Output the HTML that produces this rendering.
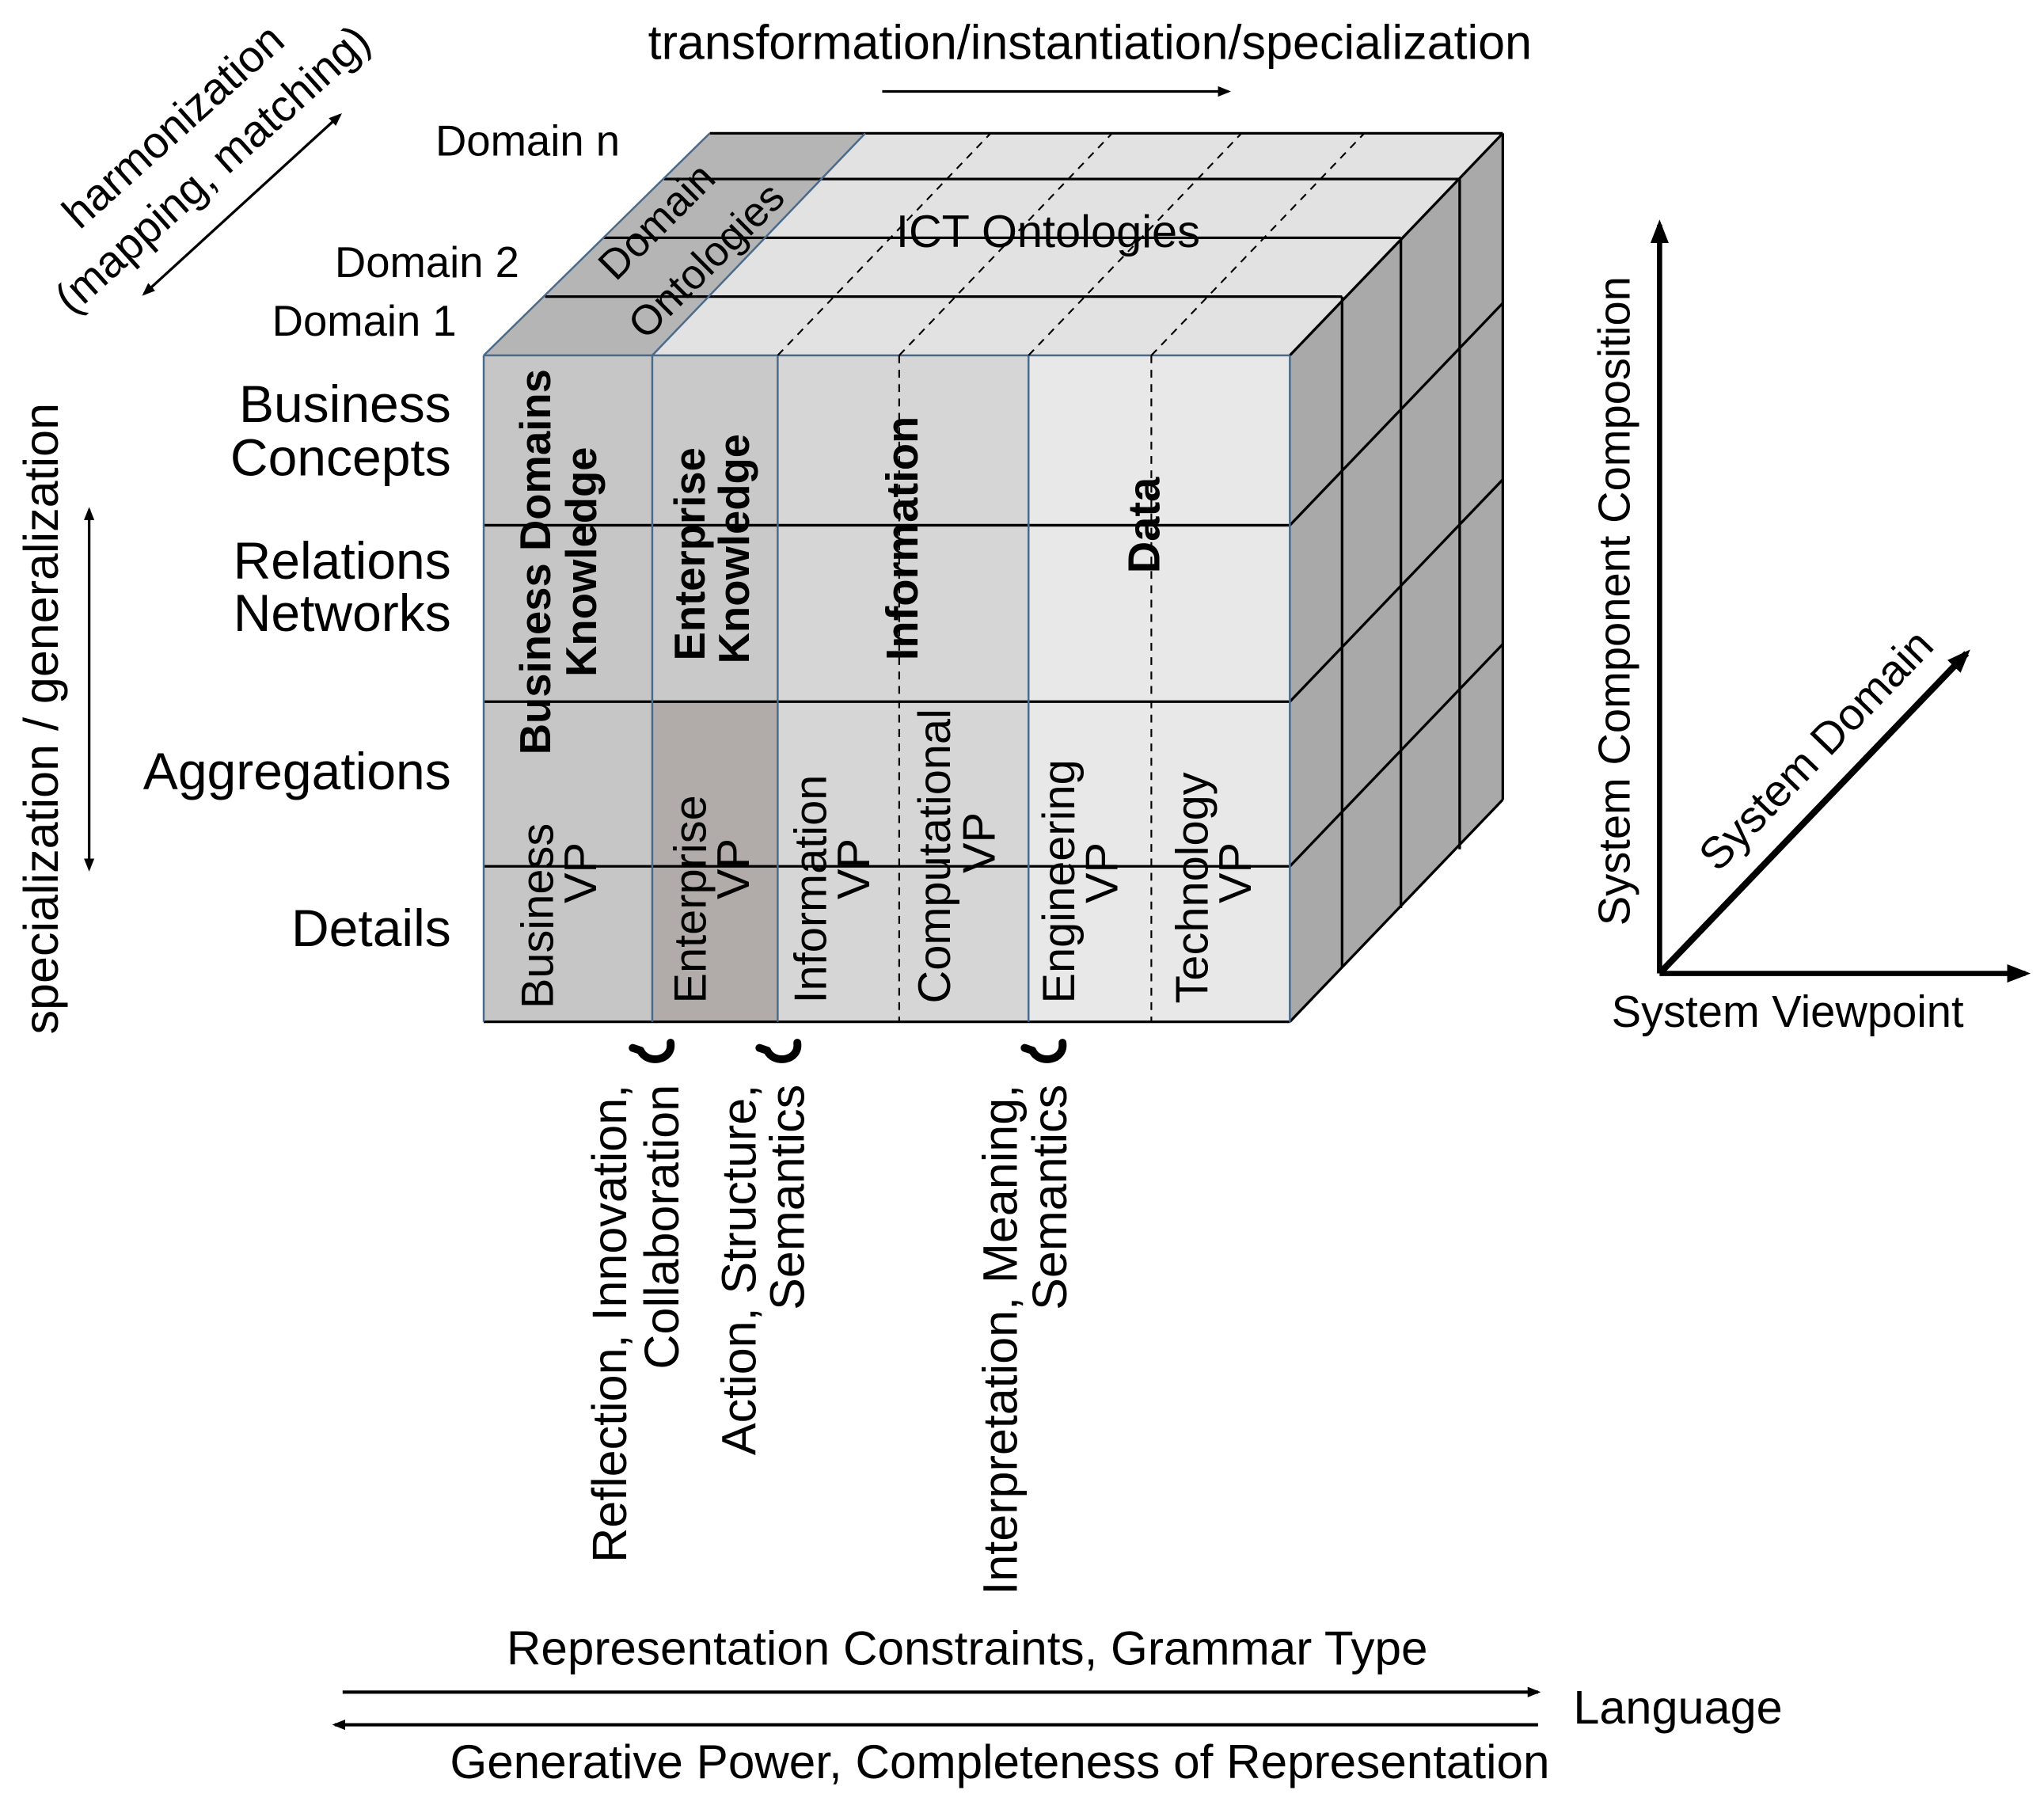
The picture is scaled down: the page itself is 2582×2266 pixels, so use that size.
<!DOCTYPE html>
<html><head><meta charset="utf-8"><style>
html,body{margin:0;padding:0;background:#fff}
svg{display:block}
text{font-family:"Liberation Sans",sans-serif;fill:#000}
</style></head><body>
<svg width="2582" height="2266" viewBox="0 0 1564 1373" xmlns="http://www.w3.org/2000/svg">
<defs>
<marker id="ah" markerWidth="10" markerHeight="10" refX="8" refY="5" orient="auto" markerUnits="userSpaceOnUse">
<path d="M0,1 L10,5 L0,9 z" fill="#000"/></marker>
<marker id="ahs" markerWidth="10" markerHeight="10" refX="2" refY="5" orient="auto" markerUnits="userSpaceOnUse">
<path d="M10,1 L0,5 L10,9 z" fill="#000"/></marker>
<marker id="ahb" markerWidth="18" markerHeight="18" refX="14" refY="9" orient="auto" markerUnits="userSpaceOnUse">
<path d="M0,2 L18,9 L0,16 z" fill="#000"/></marker>
</defs>

<polygon points="370,272 987,272 1150,102 543,102" fill="#e2e2e2"/>
<polygon points="370,272 499,272 662,102 543,102" fill="#b5b5b5"/>
<polygon points="987,272 1150,102 1150,612 987,782" fill="#a9a9a9"/>
<rect x="370" y="272" width="129" height="510" fill="#c6c6c6"/>
<rect x="499" y="272" width="96" height="265" fill="#c9c9c9"/>
<rect x="499" y="537" width="96" height="245" fill="#b1abaa"/>
<rect x="595" y="272" width="192" height="510" fill="#d6d6d6"/>
<rect x="787" y="272" width="200" height="510" fill="#e8e8e8"/>

<g stroke="#000" stroke-width="2" fill="none">
<line x1="543" y1="102" x2="1150" y2="102"/>
<line x1="508" y1="137" x2="1117" y2="137"/>
<line x1="462" y1="182" x2="1072" y2="182"/>
<line x1="417" y1="227" x2="1027" y2="227"/>
<line x1="1027" y1="227" x2="1027" y2="740"/>
<line x1="1072" y1="182" x2="1072" y2="695"/>
<line x1="1117" y1="137" x2="1117" y2="650"/>
<line x1="1150" y1="102" x2="1150" y2="612"/>
<line x1="987" y1="272" x2="1150" y2="102"/>
<line x1="987" y1="402" x2="1150" y2="232"/>
<line x1="987" y1="537" x2="1150" y2="367"/>
<line x1="987" y1="663" x2="1150" y2="493"/>
<line x1="987" y1="782" x2="1150" y2="612"/>
<line x1="370" y1="402" x2="987" y2="402"/>
<line x1="370" y1="537" x2="987" y2="537"/>
<line x1="370" y1="663" x2="987" y2="663"/>
<line x1="370" y1="782" x2="987" y2="782"/>
</g>
<g stroke="#4a6a8a" stroke-width="1.5" fill="none">
<line x1="370" y1="272" x2="987" y2="272"/>
<line x1="370" y1="272" x2="370" y2="782"/>
<line x1="499" y1="272" x2="499" y2="782"/>
<line x1="595" y1="272" x2="595" y2="782"/>
<line x1="787" y1="272" x2="787" y2="782"/>
<line x1="987" y1="272" x2="987" y2="782"/>
<line x1="370" y1="272" x2="543" y2="102"/>
<line x1="499" y1="272" x2="662" y2="102"/>
</g>
<g stroke="#000" stroke-width="1.3" stroke-dasharray="6,5" fill="none">
<line x1="688" y1="272" x2="688" y2="782"/>
<line x1="881" y1="272" x2="881" y2="782"/>
<line x1="595" y1="272" x2="758" y2="102"/>
<line x1="688" y1="272" x2="851" y2="102"/>
<line x1="787" y1="272" x2="950" y2="102"/>
<line x1="881" y1="272" x2="1044" y2="102"/>
</g>

<text font-size="32" text-anchor="middle" transform="translate(510,177) rotate(-45)">Domain</text>
<text font-size="32" text-anchor="middle" transform="translate(548,207) rotate(-45)">Ontologies</text>
<text x="802" y="189" font-size="35" text-anchor="middle">ICT Ontologies</text>
<line x1="680" y1="182" x2="920" y2="182" stroke="#000" stroke-width="1.5"/>

<g font-weight="bold" font-size="33" text-anchor="middle">
<text transform="translate(421,430) rotate(-90)">Business Domains</text>
<text transform="translate(456,430) rotate(-90)">Knowledge</text>
<text transform="translate(539,424) rotate(-90)">Enterprise</text>
<text transform="translate(573,420) rotate(-90)">Knowledge</text>
<text transform="translate(702,412) rotate(-90)" font-size="34">Information</text>
<text transform="translate(887,402) rotate(-90)" font-size="34">Data</text>
</g>
<g font-size="35">
<text transform="translate(423,772) rotate(-90)">Business</text>
<text transform="translate(540,768) rotate(-90)">Enterprise</text>
<text transform="translate(632,768) rotate(-90)">Information</text>
<text transform="translate(727,768) rotate(-90)">Computational</text>
<text transform="translate(822,768) rotate(-90)">Engineering</text>
<text transform="translate(924,768) rotate(-90)">Technology</text>
</g>
<g font-size="35" text-anchor="middle">
<text transform="translate(456,668) rotate(-90)">VP</text>
<text transform="translate(573,665) rotate(-90)">VP</text>
<text transform="translate(665,665) rotate(-90)">VP</text>
<text transform="translate(761,645) rotate(-90)">VP</text>
<text transform="translate(855,668) rotate(-90)">VP</text>
<text transform="translate(957,668) rotate(-90)">VP</text>
</g>

<g font-size="33">
<text x="333" y="119">Domain n</text>
<text x="256" y="212">Domain 2</text>
<text x="208" y="257">Domain 1</text>
</g>
<g font-size="40" text-anchor="end">
<text x="345" y="323">Business</text>
<text x="345" y="364">Concepts</text>
<text x="345" y="443">Relations</text>
<text x="345" y="483">Networks</text>
<text x="345" y="604">Aggregations</text>
<text x="345" y="724">Details</text>
</g>

<text x="834" y="45" font-size="37" text-anchor="middle">transformation/instantiation/specialization</text>
<line x1="675" y1="70" x2="940" y2="70" stroke="#000" stroke-width="2" marker-end="url(#ah)"/>

<text transform="translate(140,105) rotate(-42)" font-size="34" text-anchor="middle">harmonization</text>
<text transform="translate(170,138) rotate(-42)" font-size="34" text-anchor="middle">(mapping, matching)</text>
<line x1="110" y1="225" x2="260" y2="88" stroke="#000" stroke-width="2" marker-end="url(#ah)" marker-start="url(#ahs)"/>

<text transform="translate(44,550) rotate(-90)" font-size="37" text-anchor="middle">specialization / generalization</text>
<line x1="68" y1="390" x2="68" y2="665" stroke="#000" stroke-width="2" marker-end="url(#ah)" marker-start="url(#ahs)"/>

<line x1="1270" y1="745" x2="1270" y2="172" stroke="#000" stroke-width="4" marker-end="url(#ahb)"/>
<line x1="1270" y1="745" x2="1550" y2="745" stroke="#000" stroke-width="4" marker-end="url(#ahb)"/>
<line x1="1270" y1="745" x2="1505" y2="500" stroke="#000" stroke-width="5" marker-end="url(#ahb)"/>
<text transform="translate(1247,460) rotate(-90)" font-size="34" text-anchor="middle">System Component Composition</text>
<text x="1368" y="786" font-size="34" text-anchor="middle">System Viewpoint</text>
<text transform="translate(1398,582) rotate(-46)" font-size="34" text-anchor="middle">System Domain</text>

<g stroke="#000" stroke-width="6" fill="none" stroke-linecap="round">
<path d="M513,798 C515,812 495,815 490,804 M490,804 L484,802"/>
<path d="M610,798 C612,812 592,815 587,804 M587,804 L581,802"/>
<path d="M813,798 C815,812 795,815 790,804 M790,804 L784,802"/>
</g>

<g font-size="37" text-anchor="end">
<text transform="translate(479,830) rotate(-90)">Reflection, Innovation,</text>
<text transform="translate(519,830) rotate(-90)">Collaboration</text>
<text transform="translate(578,830) rotate(-90)">Action, Structure,</text>
<text transform="translate(615,830) rotate(-90)">Semantics</text>
<text transform="translate(778,830) rotate(-90)">Interpretation, Meaning,</text>
<text transform="translate(816,830) rotate(-90)">Semantics</text>
</g>

<text x="740" y="1274" font-size="36.5" text-anchor="middle">Representation Constraints, Grammar Type</text>
<line x1="262" y1="1295" x2="1177" y2="1295" stroke="#000" stroke-width="2.5" marker-end="url(#ah)"/>
<line x1="1177" y1="1320" x2="256" y2="1320" stroke="#000" stroke-width="2.5" marker-end="url(#ah)"/>
<text x="765" y="1361" font-size="36.5" text-anchor="middle">Generative Power, Completeness of Representation</text>
<text x="1284" y="1319" font-size="36" text-anchor="middle">Language</text>
</svg>
</body></html>
